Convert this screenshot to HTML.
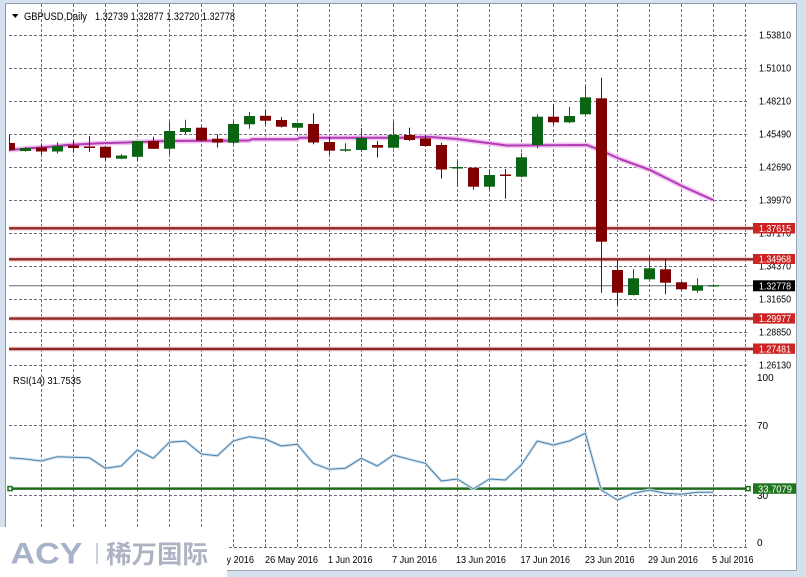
<!DOCTYPE html>
<html><head><meta charset="utf-8"><style>
html,body{margin:0;padding:0;background:#d5e1ef;}
svg{display:block;}
text{font-family:"Liberation Sans",sans-serif;}
</style></head><body>
<svg width="806" height="577" viewBox="0 0 806 577" xmlns="http://www.w3.org/2000/svg">
<defs><clipPath id="pc"><rect x="9" y="4" width="740" height="545"/></clipPath></defs>
<rect x="0" y="0" width="806" height="577" fill="#d5e1ef"/>
<rect x="6" y="4" width="790" height="566" fill="#ffffff"/>
<line x1="5.5" y1="3.5" x2="5.5" y2="570" stroke="#8e99a8" stroke-width="1"/>
<line x1="5.5" y1="3.5" x2="796.5" y2="3.5" stroke="#8e99a8" stroke-width="1"/>
<line x1="796.5" y1="3.5" x2="796.5" y2="570.5" stroke="#9aa6b4" stroke-width="1"/>
<line x1="5.5" y1="570.5" x2="796.5" y2="570.5" stroke="#9aa6b4" stroke-width="1"/>

<!-- grid -->
<g stroke="#6f6f80" stroke-width="1" stroke-dasharray="3 2" fill="none">
<path d="M41.5 4V547M73.5 4V547M105.5 4V547M137.5 4V547M169.5 4V547M201.5 4V547M233.5 4V547M265.5 4V547M297.5 4V547M329.5 4V547M361.5 4V547M393.5 4V547M425.5 4V547M457.5 4V547M489.5 4V547M521.5 4V547M553.5 4V547M585.5 4V547M617.5 4V547M649.5 4V547M681.5 4V547M713.5 4V547M745.5 4V547"/>
<path d="M9 35.5H749M9 68.5H749M9 101.5H749M9 134.5H749M9 167.5H749M9 200.5H749M9 233.5H749M9 266.5H749M9 299.5H749M9 332.5H749M9 365.5H749M9 425.5H749M9 495.5H749M9 547.5H749"/>
</g>

<!-- support/resistance lines -->
<g stroke="#f2c8c8" stroke-width="5" opacity="0.7">
<line x1="9" y1="228.3" x2="753" y2="228.3"/><line x1="9" y1="259.3" x2="753" y2="259.3"/>
<line x1="9" y1="318.6" x2="753" y2="318.6"/><line x1="9" y1="349" x2="753" y2="349"/>
</g>
<g stroke="#8e2828" stroke-width="2.4">
<line x1="9" y1="228.3" x2="753" y2="228.3"/><line x1="9" y1="259.3" x2="753" y2="259.3"/>
<line x1="9" y1="318.6" x2="753" y2="318.6"/><line x1="9" y1="349" x2="753" y2="349"/>
</g>
<line x1="9" y1="285.7" x2="753" y2="285.7" stroke="#6a6a7a" stroke-width="1"/>

<!-- MA -->
<g clip-path="url(#pc)" fill="none" stroke-linejoin="round">
<polyline stroke="#f2c2f2" stroke-width="5" points="9,150 30,148.3 50,146.7 67,145 100,143.3 133,142.3 167,141 210,140.7 249,140.5 252,139.3 297,139.3 300,137.7 400,137.7 427,136.8 457,139 507,145.5 587,145 601,150.5 620,159 650,170 683,186.5 713,200"/>
<polyline stroke="#b23cb4" stroke-width="2" points="9,150 30,148.3 50,146.7 67,145 100,143.3 133,142.3 167,141 210,140.7 249,140.5 252,139.3 297,139.3 300,137.7 400,137.7 427,136.8 457,139 507,145.5 587,145 601,150.5 620,159 650,170 683,186.5 713,200"/>
</g>

<!-- candles -->
<g clip-path="url(#pc)">
<g stroke="#800000" stroke-width="1">
<line x1="9.5" y1="135" x2="9.5" y2="151"/><line x1="41.5" y1="143.5" x2="41.5" y2="154.7"/>
<line x1="73.5" y1="141" x2="73.5" y2="152.5"/><line x1="89.5" y1="136" x2="89.5" y2="151.7"/>
<line x1="105.5" y1="146.7" x2="105.5" y2="160.5"/><line x1="153.5" y1="136.7" x2="153.5" y2="149"/>
<line x1="201.5" y1="126.7" x2="201.5" y2="141.7"/><line x1="217.5" y1="134.2" x2="217.5" y2="147.5"/>
<line x1="265.5" y1="110" x2="265.5" y2="124.2"/><line x1="281.5" y1="117" x2="281.5" y2="127.5"/>
<line x1="313.5" y1="113.3" x2="313.5" y2="144.3"/><line x1="329.5" y1="136.7" x2="329.5" y2="154.7"/>
<line x1="377.5" y1="141" x2="377.5" y2="157.5"/><line x1="409.5" y1="127.7" x2="409.5" y2="141"/>
<line x1="425.5" y1="135" x2="425.5" y2="146.5"/><line x1="441.5" y1="142.7" x2="441.5" y2="178.5"/>
<line x1="473.5" y1="167.7" x2="473.5" y2="189.7"/><line x1="505.5" y1="169" x2="505.5" y2="198.7"/>
<line x1="553.5" y1="104.3" x2="553.5" y2="125"/><line x1="601.5" y1="77.7" x2="601.5" y2="292.7"/>
<line x1="617.5" y1="260" x2="617.5" y2="305.3"/><line x1="665.5" y1="259.3" x2="665.5" y2="294.3"/>
<line x1="681.5" y1="281.7" x2="681.5" y2="290"/>
</g>
<g fill="#800000">
<rect x="4" y="143" width="11" height="7"/><rect x="36" y="147.5" width="11" height="4"/>
<rect x="68" y="145.5" width="11" height="2.5"/><rect x="84" y="146.5" width="11" height="1.5"/>
<rect x="100" y="146.7" width="11" height="11"/><rect x="148" y="141" width="11" height="7.8"/>
<rect x="196" y="127.7" width="11" height="12.8"/><rect x="212" y="138.8" width="11" height="3.7"/>
<rect x="260" y="115.8" width="11" height="4.9"/><rect x="276" y="120" width="11" height="6.7"/>
<rect x="308" y="124" width="11" height="18.5"/><rect x="324" y="142" width="11" height="8.7"/>
<rect x="372" y="145" width="11" height="2.7"/><rect x="404" y="135" width="11" height="5"/>
<rect x="420" y="138.3" width="11" height="7.7"/><rect x="436" y="145" width="11" height="24.5"/>
<rect x="468" y="167.7" width="11" height="19"/><rect x="500" y="174.5" width="11" height="1.5"/>
<rect x="548" y="116.7" width="11" height="5.6"/><rect x="596" y="98.3" width="11" height="143.4"/>
<rect x="612" y="270" width="11" height="22.7"/><rect x="660" y="269.3" width="11" height="13.4"/>
<rect x="676" y="282.3" width="11" height="7"/>
</g>
<g stroke="#0a6414" stroke-width="1">
<line x1="25.5" y1="147" x2="25.5" y2="151.5"/><line x1="57.5" y1="142.3" x2="57.5" y2="153.5"/>
<line x1="121.5" y1="154.3" x2="121.5" y2="159.3"/><line x1="137.5" y1="141" x2="137.5" y2="161"/>
<line x1="169.5" y1="122" x2="169.5" y2="154"/><line x1="185.5" y1="119.7" x2="185.5" y2="134"/>
<line x1="233.5" y1="121.7" x2="233.5" y2="144"/><line x1="249.5" y1="112" x2="249.5" y2="128.7"/>
<line x1="297.5" y1="122.7" x2="297.5" y2="130.3"/><line x1="345.5" y1="143.3" x2="345.5" y2="151.7"/>
<line x1="361.5" y1="128.3" x2="361.5" y2="151.7"/><line x1="393.5" y1="121.7" x2="393.5" y2="148.5"/>
<line x1="457.5" y1="160.7" x2="457.5" y2="186.7"/><line x1="489.5" y1="170" x2="489.5" y2="190"/>
<line x1="521.5" y1="152.7" x2="521.5" y2="177.5"/><line x1="537.5" y1="114.3" x2="537.5" y2="148.3"/>
<line x1="569.5" y1="106.7" x2="569.5" y2="123.3"/><line x1="585.5" y1="86" x2="585.5" y2="114.5"/>
<line x1="633.5" y1="269.3" x2="633.5" y2="295.5"/><line x1="649.5" y1="256" x2="649.5" y2="279.5"/>
<line x1="697.5" y1="278.3" x2="697.5" y2="292.7"/><line x1="713.5" y1="285" x2="713.5" y2="286.5"/>
</g>
<g fill="#0a6414">
<rect x="20" y="148" width="11" height="3"/><rect x="52" y="146" width="11" height="5.5"/>
<rect x="116" y="155.5" width="11" height="3.2"/><rect x="132" y="141" width="11" height="15.8"/>
<rect x="164" y="131" width="11" height="17.7"/><rect x="180" y="128" width="11" height="4"/>
<rect x="228" y="124" width="11" height="18.7"/><rect x="244" y="116" width="11" height="8.3"/>
<rect x="292" y="123" width="11" height="4.7"/><rect x="340" y="149.3" width="11" height="1.5"/>
<rect x="356" y="138" width="11" height="12"/><rect x="388" y="135" width="11" height="12.7"/>
<rect x="452" y="167" width="11" height="1.5"/><rect x="484" y="175" width="11" height="11.7"/>
<rect x="516" y="157.3" width="11" height="19.4"/><rect x="532" y="116.7" width="11" height="28.3"/>
<rect x="564" y="116" width="11" height="6.3"/><rect x="580" y="97.3" width="11" height="17"/>
<rect x="628" y="278.3" width="11" height="16.7"/><rect x="644" y="268.3" width="11" height="11"/>
<rect x="692" y="285.3" width="11" height="5.4"/><rect x="708" y="285.2" width="11" height="1.3"/>
</g>
</g>

<!-- RSI -->
<line x1="9" y1="488.6" x2="749" y2="488.6" stroke="#1d6b1d" stroke-width="2.5"/>
<rect x="8" y="486.6" width="4" height="4" fill="#fff" stroke="#1d6b1d" stroke-width="1.5"/>
<rect x="746" y="486.6" width="4" height="4" fill="#fff" stroke="#1d6b1d" stroke-width="1.5"/>
<g clip-path="url(#pc)" fill="none" stroke-linejoin="round">
<polyline stroke="#d2e2ee" stroke-width="3" points="9.3,457.7 25.3,459 41.3,461 57.3,456.7 73.3,457.3 89.3,457.7 105.3,468.3 121.3,466 137.3,450 153.3,458.3 169.3,442.3 185.3,441 201.3,454 217.3,455.7 233.3,441 249.3,436.7 265.3,439 281.3,446 297.3,444.3 313.3,463.3 329.3,469.3 345.3,468.3 361.3,458.3 377.3,466 393.3,455 409.3,459.3 425.3,463.3 441.3,481 457.3,479 473.3,489 489.3,479 505.3,480 521.3,465 537.3,441 553.3,445 569.3,441 585.3,433.3 601.3,490 617.3,500 633.3,493.3 649.3,490 665.3,493.3 681.3,494.3 697.3,492.3 713.3,492.3"/>
<polyline stroke="#4a80aa" stroke-width="1" points="9.3,457.7 25.3,459 41.3,461 57.3,456.7 73.3,457.3 89.3,457.7 105.3,468.3 121.3,466 137.3,450 153.3,458.3 169.3,442.3 185.3,441 201.3,454 217.3,455.7 233.3,441 249.3,436.7 265.3,439 281.3,446 297.3,444.3 313.3,463.3 329.3,469.3 345.3,468.3 361.3,458.3 377.3,466 393.3,455 409.3,459.3 425.3,463.3 441.3,481 457.3,479 473.3,489 489.3,479 505.3,480 521.3,465 537.3,441 553.3,445 569.3,441 585.3,433.3 601.3,490 617.3,500 633.3,493.3 649.3,490 665.3,493.3 681.3,494.3 697.3,492.3 713.3,492.3"/>
</g>

<!-- title -->
<polygon points="12,14 18.5,14 15.25,18" fill="#000"/>
<text x="24" y="20" font-size="11" fill="#000" textLength="63" lengthAdjust="spacingAndGlyphs">GBPUSD,Daily</text>
<text x="95" y="20" font-size="11" fill="#000" textLength="140" lengthAdjust="spacingAndGlyphs">1.32739 1.32877 1.32720 1.32778</text>
<text x="13" y="384" font-size="10" fill="#000" textLength="68" lengthAdjust="spacingAndGlyphs">RSI(14) 31.7535</text>

<!-- price axis -->
<g font-size="10" fill="#000">
<text x="759" y="38.6" textLength="32" lengthAdjust="spacingAndGlyphs">1.53810</text>
<text x="759" y="71.6" textLength="32" lengthAdjust="spacingAndGlyphs">1.51010</text>
<text x="759" y="104.6" textLength="32" lengthAdjust="spacingAndGlyphs">1.48210</text>
<text x="759" y="137.6" textLength="32" lengthAdjust="spacingAndGlyphs">1.45490</text>
<text x="759" y="170.6" textLength="32" lengthAdjust="spacingAndGlyphs">1.42690</text>
<text x="759" y="203.6" textLength="32" lengthAdjust="spacingAndGlyphs">1.39970</text>
<text x="759" y="236.6" textLength="32" lengthAdjust="spacingAndGlyphs">1.37170</text>
<text x="759" y="269.6" textLength="32" lengthAdjust="spacingAndGlyphs">1.34370</text>
<text x="759" y="302.6" textLength="32" lengthAdjust="spacingAndGlyphs">1.31650</text>
<text x="759" y="335.6" textLength="32" lengthAdjust="spacingAndGlyphs">1.28850</text>
<text x="759" y="368.6" textLength="32" lengthAdjust="spacingAndGlyphs">1.26130</text>
<text x="757" y="381">100</text>
<text x="757" y="429">70</text>
<text x="757" y="499">30</text>
<text x="757" y="546">0</text>
</g>
<g fill="#cc2424">
<rect x="753" y="223" width="42" height="10.5"/><rect x="753" y="254" width="42" height="10"/>
<rect x="753" y="313.3" width="42" height="10.3"/><rect x="753" y="343.5" width="42" height="10.3"/>
</g>
<rect x="753" y="280.3" width="42" height="11" fill="#000"/>
<rect x="753" y="483.3" width="43" height="10.5" fill="#1e751e"/>
<g font-size="10" fill="#fff">
<text x="759" y="232" textLength="32" lengthAdjust="spacingAndGlyphs">1.37615</text>
<text x="759" y="262.7" textLength="32" lengthAdjust="spacingAndGlyphs">1.34968</text>
<text x="759" y="289.4" textLength="32" lengthAdjust="spacingAndGlyphs">1.32778</text>
<text x="759" y="322.2" textLength="32" lengthAdjust="spacingAndGlyphs">1.29977</text>
<text x="759" y="352.4" textLength="32" lengthAdjust="spacingAndGlyphs">1.27481</text>
<text x="758" y="492.3" textLength="34" lengthAdjust="spacingAndGlyphs">33.7079</text>
</g>

<!-- time axis -->
<g font-size="10" fill="#000">
<text x="201" y="563" textLength="53" lengthAdjust="spacingAndGlyphs">20 May 2016</text>
<text x="265" y="563" textLength="53" lengthAdjust="spacingAndGlyphs">26 May 2016</text>
<text x="328" y="563" textLength="44.5" lengthAdjust="spacingAndGlyphs">1 Jun 2016</text>
<text x="392" y="563" textLength="45" lengthAdjust="spacingAndGlyphs">7 Jun 2016</text>
<text x="456" y="563" textLength="50" lengthAdjust="spacingAndGlyphs">13 Jun 2016</text>
<text x="520.5" y="563" textLength="49.5" lengthAdjust="spacingAndGlyphs">17 Jun 2016</text>
<text x="585" y="563" textLength="49.5" lengthAdjust="spacingAndGlyphs">23 Jun 2016</text>
<text x="648" y="563" textLength="50" lengthAdjust="spacingAndGlyphs">29 Jun 2016</text>
<text x="712" y="563" textLength="41.5" lengthAdjust="spacingAndGlyphs">5 Jul 2016</text>
</g>

<!-- watermark -->
<rect x="0" y="527" width="227" height="50" fill="#ffffff"/>
<text x="10.5" y="563.5" font-size="30" font-weight="bold" fill="#a7b3cb" textLength="72" lengthAdjust="spacingAndGlyphs">ACY</text>
<line x1="97" y1="543" x2="97" y2="564" stroke="#b8c0d0" stroke-width="1.5"/>
<text x="106" y="563" font-size="25" fill="#adb3c2" textLength="102" lengthAdjust="spacingAndGlyphs" style="font-family:'Liberation Sans','Noto Sans CJK SC',sans-serif;font-weight:bold">稀万国际</text>
</svg>
</body></html>
